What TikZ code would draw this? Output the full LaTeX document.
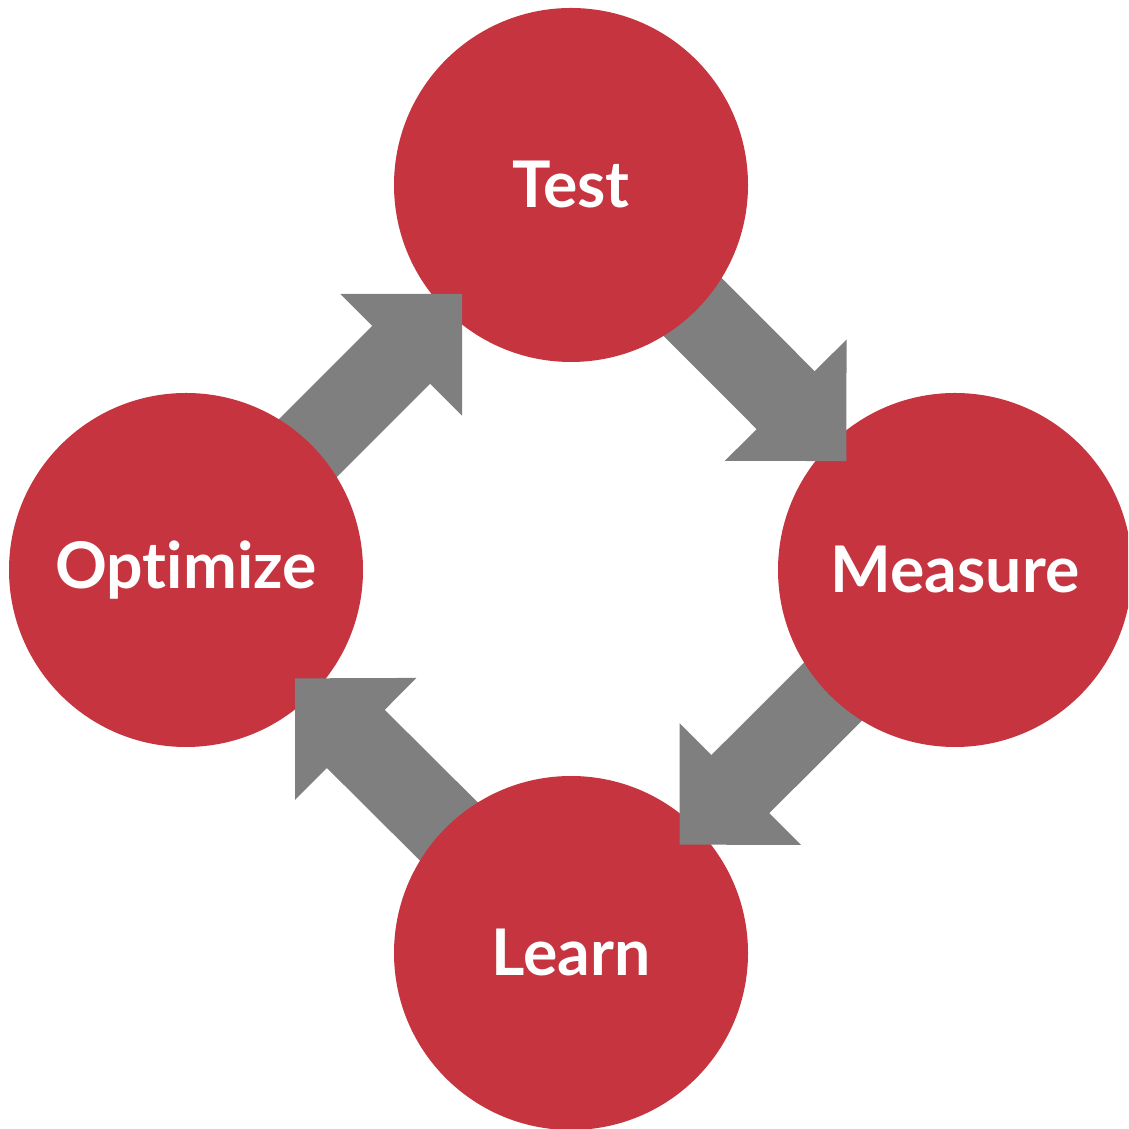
\documentclass[tikz,border=0pt]{standalone}
\usepackage{fontspec}
\setmainfont{Lato}[Ligatures=NoCommon]
\usetikzlibrary{calc}
\definecolor{stepred}{HTML}{C5343F}
\definecolor{flowgray}{HTML}{7F7F7F}

\begin{document}
\begin{tikzpicture}

\useasboundingbox (0,0) rectangle (11.28,11.29);
\clip (0,0) rectangle (11.28,11.29);

% Place the four stages of the cycle (circles come later, on top of the shafts)
\path coordinate (test) at (5.71,9.44)
      coordinate (measure) at (9.55,5.59)
      coordinate (learn) at (5.71,1.76)
      coordinate (optimize) at (1.86,5.59);

% Shafts of the block arrows, hidden under the circles at both ends
\tikzstyle{every path}=[draw=flowgray,line width=0.82cm];
\foreach \a/\b [count=\idx] in {test/measure,measure/learn,learn/optimize,optimize/test}
  \draw (\a) -- ($(\a)!0.57!(\b)$);

% Draw the stages
\tikzstyle{every path}=[];
\tikzstyle{every node}=[circle,fill=stepred,minimum size=3.54cm,inner sep=0pt,text=white,font=\bfseries\fontsize{18.3}{21}\selectfont];
\node (Test) at (test) {Test};
\node (Measure) at (measure) {Measure};
\node (Learn) at (learn) {Learn};
\node (Optimize) at (optimize) {Optimize};

% Arrow heads, drawn over the circle they point into
\foreach \a/\b [count=\idx] in {Test/Measure,Measure/Learn,Learn/Optimize,Optimize/Test}{
  \path coordinate (t\idx) at ($(\a.center)!0.717!(\b.center)$)
        coordinate (h\idx) at ($(\a.center)!0.559!(\b.center)$);
  \fill[flowgray] (t\idx) -- ($(h\idx)!0.86cm!90:(t\idx)$) -- ($(h\idx)!0.86cm!-90:(t\idx)$) -- cycle;
}

\end{tikzpicture}
\end{document}
